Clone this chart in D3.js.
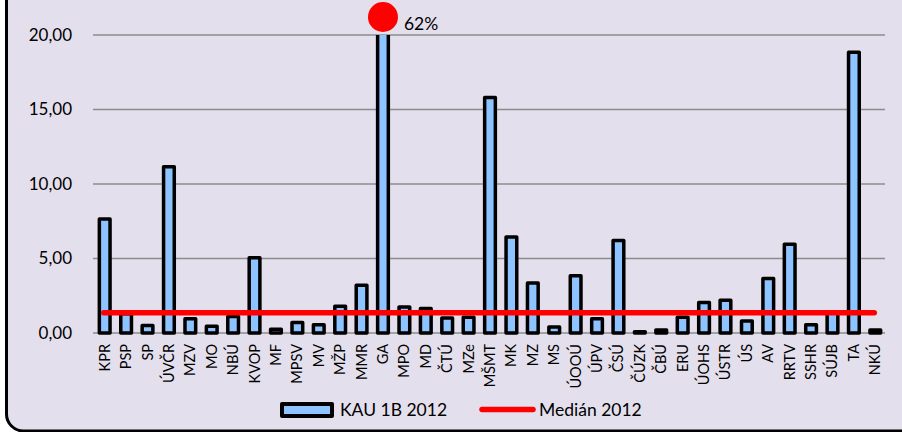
<!DOCTYPE html>
<html>
<head>
<meta charset="utf-8">
<script src="https://cdn.jsdelivr.net/npm/d3@7"></script>
<style>
  body { margin: 0; background: #fff; }
  svg { display: block; font-family: Lato, "Open Sans", sans-serif; }
</style>
</head>
<body>
<script>
var categories = ["KPR","PSP","SP","ÚVČR","MZV","MO","NBÚ","KVOP","MF","MPSV","MV","MŽP","MMR","GA","MPO","MD","ČTÚ","MZe","MŠMT","MK","MZ","MS","ÚOOÚ","ÚPV","ČSÚ","ČÚZK","ČBÚ","ERU","ÚOHS","ÚSTR","ÚS","AV","RRTV","SSHR","SÚJB","TA","NKÚ"];
var kau2012 = [7.65,1.3,0.5,11.15,0.95,0.45,1.1,5.05,0.25,0.7,0.55,1.8,3.2,62,1.75,1.65,1.0,1.05,15.8,6.45,3.35,0.4,3.85,0.95,6.2,0.08,0.2,1.05,2.05,2.2,0.8,3.65,5.95,0.55,1.4,18.85,0.2];
var median2012 = 1.36;
var yTicks = [0, 5, 10, 15, 20];
var seriesNames = ["KAU 1B 2012", "Medián 2012"];
var outlier = {name: "GA", label: "62%"};

var W = 902, H = 432;
var margin = {top: 35, right: 17, bottom: 99, left: 93}
  , width = W - margin.left - margin.right
  , height = H - margin.top - margin.bottom;

var svg = d3.select("body").append("svg")
    .attr("width", W)
    .attr("height", H);

// frame of the chart area (only left and bottom edges visible)
svg.append("rect")
    .attr("x", 6.5).attr("y", -30)
    .attr("width", 1000).attr("height", 461)
    .attr("rx", 17)
    .attr("fill", "#E4DFEC")
    .attr("stroke", "#000")
    .attr("stroke-width", 3);

var g = svg.append("g")
    .attr("transform", "translate(" + margin.left + "," + margin.top + ")");

var x = d3.scaleBand().domain(categories).range([0, width]);
var y = d3.scaleLinear().domain([0, 20]).range([height, 0]);

// grid lines + labels
g.selectAll(".grid")
    .data(yTicks)
    .enter().append("line")
    .attr("x1", 0).attr("x2", width)
    .attr("y1", function (d) { return y(d); })
    .attr("y2", function (d) { return y(d); })
    .attr("stroke", "#8c8c8c")
    .attr("stroke-width", 1.6);

g.selectAll(".ytick")
    .data(yTicks)
    .enter().append("text")
    .attr("x", -21)
    .attr("y", function (d) { return y(d); })
    .attr("dy", "0.35em")
    .attr("text-anchor", "end")
    .attr("font-size", 17)
    .attr("fill", "#000")
    .text(function (d) { return d3.format(".2f")(d).replace(".", ","); });

g.append("clipPath").attr("id", "plot")
    .append("rect").attr("x", -10).attr("y", 0).attr("width", width + 20).attr("height", height + 10);

var barW = x.bandwidth() * 0.5;
g.append("g").attr("clip-path", "url(#plot)")
    .selectAll(".bar")
    .data(categories)
    .enter().append("rect")
    .attr("class", "bar")
    .attr("x", function (d) { return x(d) + (x.bandwidth() - barW) / 2 + 1; })
    .attr("y", function (d, i) { return y(Math.min(kau2012[i], 20.3)); })
    .attr("width", barW)
    .attr("height", function (d, i) { return y(0) - y(Math.min(kau2012[i], 20.3)); })
    .attr("fill", "#8DC3FF")
    .attr("stroke", "#000")
    .attr("stroke-width", 3.5)
    .attr("stroke-linejoin", "round");

// median line
g.append("line")
    .attr("x1", x(categories[0]) + x.bandwidth() / 2)
    .attr("x2", x(categories[categories.length - 1]) + x.bandwidth() / 2)
    .attr("y1", y(median2012)).attr("y2", y(median2012))
    .attr("stroke", "#FF0000")
    .attr("stroke-width", 5.5)
    .attr("stroke-linecap", "round");

// outlier marker
var ox = x(outlier.name) + x.bandwidth() / 2 + 1;
g.append("circle")
    .attr("cx", ox).attr("cy", -18)
    .attr("r", 15)
    .attr("fill", "#FF0000");
g.append("text")
    .attr("x", ox + 21).attr("y", -5)
    .attr("font-size", 17.5)
    .attr("fill", "#000")
    .text(outlier.label);

// category labels
g.selectAll(".xlab")
    .data(categories)
    .enter().append("text")
    .attr("transform", function (d) {
        return "translate(" + (x(d) + x.bandwidth() / 2 + 6) + "," + (height + 11) + ") rotate(-90)";
    })
    .attr("text-anchor", "end")
    .attr("font-size", 14.5)
    .attr("fill", "#000")
    .text(function (d) { return d; });

// legend
var leg = svg.append("g");
leg.append("rect")
    .attr("x", 282).attr("y", 404)
    .attr("width", 50).attr("height", 12)
    .attr("fill", "#8DC3FF")
    .attr("stroke", "#000")
    .attr("stroke-width", 4)
    .attr("stroke-linejoin", "round");
leg.append("text")
    .attr("x", 340).attr("y", 416)
    .attr("font-size", 17.5)
    .text(seriesNames[0]);
leg.append("line")
    .attr("x1", 482).attr("x2", 533)
    .attr("y1", 409.5).attr("y2", 409.5)
    .attr("stroke", "#FF0000")
    .attr("stroke-width", 5.5)
    .attr("stroke-linecap", "round");
leg.append("text")
    .attr("x", 539).attr("y", 416)
    .attr("font-size", 17.5)
    .text(seriesNames[1]);
</script>
</body>
</html>
